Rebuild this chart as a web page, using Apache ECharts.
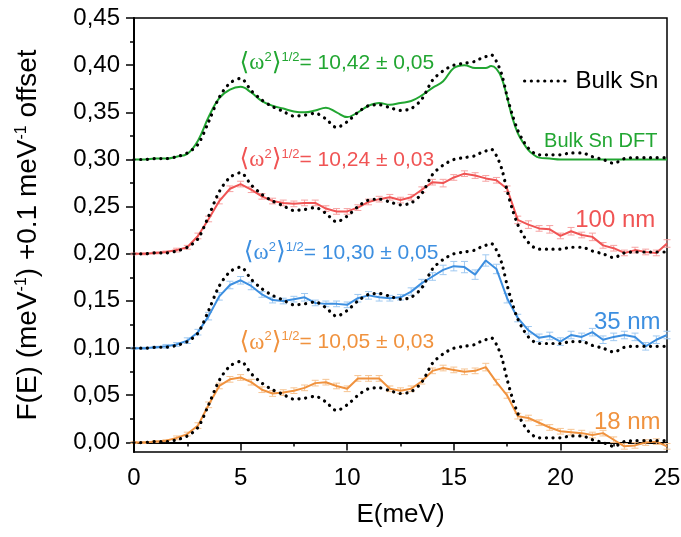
<!DOCTYPE html>
<html>
<head>
<meta charset="utf-8">
<script src="https://cdn.jsdelivr.net/npm/echarts@6/dist/echarts.min.js"></script>
<style>
  html, body { margin: 0; padding: 0; background: #fff; }
  #chart { width: 681px; height: 537px; }
</style>
</head>
<body>
<div id="chart"></div>
<script>
  // energies of the measured spectra (meV)
  const energyMeas = [0, 0.5, 1, 1.5, 2, 2.5, 3, 3.5, 4, 4.5, 5, 5.5, 6, 6.5, 7, 7.5, 8, 8.5, 9, 9.5,
    10, 10.5, 11, 11.5, 12, 12.5, 13, 13.5, 14, 14.5, 15, 15.5, 16, 16.5, 17, 17.5, 18, 18.5, 19, 19.5,
    20, 20.5, 21, 21.5, 22, 22.5, 23, 23.5, 24, 24.5, 25]
  // energies of the bulk curves (finer near the cut-off)
  const energyBulk = [0, 0.5, 1, 1.5, 2, 2.5, 3, 3.5, 4, 4.5, 5, 5.5, 6, 6.5, 7, 7.5, 8, 8.5, 9, 9.5,
    10, 10.5, 11, 11.5, 12, 12.5, 13, 13.5, 14, 14.5, 15, 15.5, 16, 16.25, 16.5, 16.75, 17, 17.25, 17.5, 17.75,
    18, 18.25, 18.5, 18.75, 19, 19.5, 20, 20.5, 21, 21.5, 22, 22.5, 23, 23.5, 24, 24.5, 25]

  // Bulk Sn DFT (green)
  const dftSn = [0, 0, 0.001, 0.001, 0.003, 0.006, 0.020, 0.045, 0.065, 0.074, 0.077, 0.071, 0.062, 0.057, 0.054, 0.051, 0.050, 0.052, 0.055, 0.050,
    0.045, 0.050, 0.057, 0.060, 0.058, 0.060, 0.062, 0.068, 0.076, 0.083, 0.097, 0.100, 0.097, 0.097, 0.097, 0.099, 0.096, 0.086, 0.066, 0.044,
    0.028, 0.018, 0.010, 0.005, 0.002, 0.001, 0, 0, 0, 0, 0, 0, 0, 0, 0, 0, 0]
  // Bulk Sn measured (black dots)
  const bulkSn = [0, 0, 0.001, 0.001, 0.003, 0.007, 0.016, 0.040, 0.066, 0.081, 0.086, 0.073, 0.063, 0.056, 0.051, 0.046, 0.047, 0.049, 0.043, 0.034,
    0.040, 0.050, 0.057, 0.058, 0.055, 0.052, 0.054, 0.064, 0.084, 0.094, 0.100, 0.102, 0.104, 0.107, 0.109, 0.111, 0.104, 0.090, 0.067, 0.047,
    0.031, 0.020, 0.012, 0.007, 0.005, 0.005, 0.005, 0.007, 0.007, 0.003, 0.000, -0.004, 0.001, 0.002, 0.002, 0.002, 0.002]

  // films
  const film100 = [0, 0, 0.001, 0.002, 0.004, 0.007, 0.019, 0.037, 0.056, 0.069, 0.074, 0.068, 0.061, 0.056, 0.054, 0.053, 0.054, 0.054, 0.048, 0.045,
    0.045, 0.049, 0.055, 0.058, 0.060, 0.057, 0.060, 0.068, 0.076, 0.075, 0.081, 0.085, 0.083, 0.080, 0.078, 0.069, 0.036, 0.031, 0.027, 0.026,
    0.019, 0.024, 0.020, 0.018, 0.009, 0.006, 0.001, 0.004, 0.002, 0.001, 0.011]
  const err100 = [0.001, 0.001, 0.001, 0.001, 0.002, 0.002, 0.003, 0.003, 0.003, 0.003, 0.003, 0.003, 0.003, 0.003, 0.003, 0.003, 0.003, 0.003, 0.003, 0.003,
    0.003, 0.003, 0.003, 0.003, 0.003, 0.003, 0.003, 0.003, 0.003, 0.004, 0.003, 0.003, 0.003, 0.003, 0.003, 0.003, 0.004, 0.004, 0.003, 0.004,
    0.003, 0.004, 0.003, 0.004, 0.003, 0.003, 0.003, 0.003, 0.003, 0.003, 0.004]
  const film35 = [0, 0, 0.001, 0.002, 0.004, 0.008, 0.017, 0.034, 0.055, 0.067, 0.072, 0.066, 0.057, 0.051, 0.050, 0.052, 0.054, 0.048, 0.047, 0.047,
    0.046, 0.053, 0.056, 0.054, 0.053, 0.054, 0.060, 0.069, 0.076, 0.083, 0.087, 0.086, 0.078, 0.093, 0.084, 0.053, 0.032, 0.019, 0.011, 0.013,
    0.007, 0.014, 0.012, 0.017, 0.009, 0.012, 0.014, 0.012, 0.002, 0.009, 0.014]
  const err35 = [0.001, 0.001, 0.001, 0.002, 0.002, 0.003, 0.003, 0.004, 0.004, 0.004, 0.004, 0.004, 0.003, 0.003, 0.003, 0.003, 0.004, 0.003, 0.003, 0.003,
    0.003, 0.004, 0.004, 0.004, 0.003, 0.003, 0.004, 0.004, 0.004, 0.005, 0.005, 0.006, 0.005, 0.006, 0.005, 0.005, 0.004, 0.004, 0.004, 0.004,
    0.004, 0.004, 0.004, 0.004, 0.004, 0.004, 0.004, 0.004, 0.004, 0.004, 0.004]
  const film18 = [0, 0, 0.001, 0.002, 0.005, 0.009, 0.018, 0.040, 0.060, 0.067, 0.069, 0.064, 0.056, 0.052, 0.053, 0.055, 0.058, 0.063, 0.064, 0.060,
    0.057, 0.068, 0.068, 0.068, 0.057, 0.055, 0.057, 0.065, 0.076, 0.079, 0.077, 0.075, 0.076, 0.080, 0.064, 0.050, 0.028, 0.026, 0.021, 0.016,
    0.012, 0.011, 0.010, 0.008, 0.010, 0.003, -0.004, -0.003, 0.000, 0.001, -0.004]
  const err18 = [0.001, 0.001, 0.001, 0.001, 0.002, 0.002, 0.003, 0.003, 0.003, 0.003, 0.003, 0.003, 0.003, 0.003, 0.003, 0.003, 0.003, 0.003, 0.003, 0.003,
    0.003, 0.003, 0.003, 0.003, 0.003, 0.003, 0.003, 0.003, 0.003, 0.003, 0.003, 0.003, 0.003, 0.004, 0.003, 0.003, 0.003, 0.003, 0.003, 0.003,
    0.003, 0.003, 0.003, 0.003, 0.003, 0.003, 0.003, 0.003, 0.003, 0.003, 0.003]

  // vertical offsets (meV^-1) and <w^2>^1/2 values
  const offsets = [0.3, 0.2, 0.1, 0]
  const omegaText = ['10,42 \u00b1 0,05', '10,24 \u00b1 0,03', '10,30 \u00b1 0,05', '10,05 \u00b1 0,03']
  const sampleNames = ['Bulk Sn DFT', '100 nm', '35 nm', '18 nm']
  const yTicks = [0, 0.45, 0.05]

  const FONT = 'Liberation Sans, Arial, sans-serif'
  const colors = ['#22a632', '#f05454', '#3d8fe0', '#f0923e']
  const errColors = ['#22a632', '#f6a3a3', '#9fc9f1', '#f6c493']
  const dotted = { color: '#000', width: 3.2, type: [0.1, 6.6], cap: 'round' }

  function pairs(xs, ys, off) {
    return xs.map((x, i) => [x, ys[i] + off])
  }
  function errPairs(xs, ys, es, off) {
    return xs.map((x, i) => [x, ys[i] + off - es[i], ys[i] + off + es[i]])
  }
  function renderError(params, api) {
    const x = api.value(0)
    const lo = api.coord([x, api.value(1)])
    const hi = api.coord([x, api.value(2)])
    const w = 3.5
    const style = { stroke: api.visual('color'), lineWidth: 1 }
    return {
      type: 'group',
      children: [
        { type: 'line', shape: { x1: lo[0], y1: lo[1], x2: hi[0], y2: hi[1] }, style },
        { type: 'line', shape: { x1: lo[0] - w, y1: lo[1], x2: lo[0] + w, y2: lo[1] }, style },
        { type: 'line', shape: { x1: hi[0] - w, y1: hi[1], x2: hi[0] + w, y2: hi[1] }, style }
      ]
    }
  }
  // <w^2>^1/2 label + sample name, placed in data coordinates
  function tags(k, omegaAt, nameAt, nameSize) {
    const c = colors[k]
    return {
      symbol: 'circle',
      symbolSize: 0,
      silent: true,
      animation: false,
      data: [
        {
          coord: omegaAt,
          label: {
            show: true, position: 'right', distance: 0, color: c,
            formatter: () => '{br|\u27e8}{w|\u03c9}{sup|2}{br|\u27e9}{sup|1/2}{t|= ' + omegaText[k] + '}',
            rich: {
              br: { fontFamily: 'DejaVu Serif', fontSize: 25, color: c },
              w: { fontFamily: 'Liberation Serif', fontSize: 23, color: c },
              sup: { fontFamily: FONT, fontSize: 13, color: c, verticalAlign: 'top' },
              t: { fontFamily: FONT, fontSize: 21, color: c }
            }
          }
        },
        {
          coord: nameAt,
          label: {
            show: true, position: 'left', distance: 0, color: c,
            fontFamily: FONT, fontSize: nameSize,
            formatter: () => sampleNames[k]
          }
        }
      ]
    }
  }

  const films = [dftSn, film100, film35, film18]
  const errs = [null, err100, err35, err18]
  const omegaPos = [[4.95, 0.402], [4.95, 0.2995], [5.15, 0.201], [4.95, 0.106]]
  const namePos = [[24.55, 0.3195], [24.45, 0.2355], [24.7, 0.1275], [24.7, 0.0215]]
  const nameSize = [20, 24, 24, 24]

  const series = []
  films.forEach((ys, k) => {
    if (errs[k]) {
      series.push({
        type: 'custom',
        name: sampleNames[k] + ' err',
        renderItem: renderError,
        itemStyle: { color: errColors[k] },
        data: errPairs(energyMeas, ys, errs[k], offsets[k]),
        z: 1,
        silent: true
      })
    }
    series.push({
      type: 'line',
      name: sampleNames[k],
      data: pairs(k === 0 ? energyBulk : energyMeas, ys, offsets[k]),
      smooth: k === 0 ? 0.4 : false,
      symbol: 'none',
      lineStyle: { color: colors[k], width: 2 },
      itemStyle: { color: colors[k] },
      z: 2,
      markPoint: tags(k, omegaPos[k], namePos[k], nameSize[k])
    })
  })
  offsets.forEach(off => {
    series.push({
      type: 'line',
      name: 'Bulk Sn',
      data: pairs(energyBulk, bulkSn, off),
      smooth: 0.3,
      symbol: 'none',
      lineStyle: dotted,
      itemStyle: { color: '#000' },
      z: 3
    })
  })

  const chart = echarts.init(document.getElementById('chart'))
  chart.setOption({
    animation: false,
    backgroundColor: '#fff',
    textStyle: { fontFamily: FONT },
    legend: {
      data: ['Bulk Sn'],
      left: 518,
      top: 64,
      itemWidth: 46,
      itemHeight: 14,
      itemStyle: { opacity: 0 },
      lineStyle: dotted,
      textStyle: { fontSize: 24, color: '#000', fontFamily: FONT }
    },
    grid: [
      { left: 134, right: 14, top: 18, bottom: 85, show: true, borderColor: '#000', borderWidth: 1.5, outerBoundsMode: 'none' },
      { left: 134, right: 14, top: 18, height: 424.3, outerBoundsMode: 'none' }
    ],
    xAxis: [
      {
        type: 'value', gridIndex: 0, min: 0, max: 25, interval: 5,
        name: 'E(meV)', nameLocation: 'middle', nameGap: 50,
        nameTextStyle: { fontSize: 26, color: '#000', fontFamily: FONT },
        axisLine: { show: true, lineStyle: { color: '#000', width: 2 } },
        axisTick: { show: true, inside: false, length: 8, lineStyle: { color: '#000', width: 1.5 } },
        minorTick: { show: true, splitNumber: 2, length: 4, lineStyle: { color: '#000', width: 1.5 } },
        axisLabel: { fontSize: 24, color: '#000', margin: 14, fontFamily: FONT },
        splitLine: { show: false }
      },
      { type: 'value', gridIndex: 1, min: 0, max: 25, show: false }
    ],
    yAxis: [
      {
        type: 'value', gridIndex: 0, min: -0.01, max: 0.45,
        name: 'F(E) (meV{s|-1}) +0.1 meV{s|-1} offset',
        nameLocation: 'middle', nameGap: 92,
        nameTextStyle: {
          fontSize: 28, color: '#000', fontFamily: FONT,
          rich: { s: { fontSize: 16, color: '#000', fontFamily: FONT, verticalAlign: 'top' } }
        },
        axisLine: { show: true, lineStyle: { color: '#000', width: 2 } },
        axisTick: { show: false },
        axisLabel: { show: false },
        splitLine: { show: false }
      },
      {
        type: 'value', gridIndex: 1, min: yTicks[0], max: yTicks[1], interval: yTicks[2],
        axisLine: { show: false },
        axisTick: { show: true, inside: false, length: 8, lineStyle: { color: '#000', width: 1.5 } },
        minorTick: { show: true, splitNumber: 2, length: 4, lineStyle: { color: '#000', width: 1.5 } },
        axisLabel: {
          fontSize: 24, color: '#000', margin: 14, fontFamily: FONT,
          formatter: v => v.toFixed(2).replace('.', ',')
        },
        splitLine: { show: false }
      }
    ],
    series: series
  })
</script>
</body>
</html>
